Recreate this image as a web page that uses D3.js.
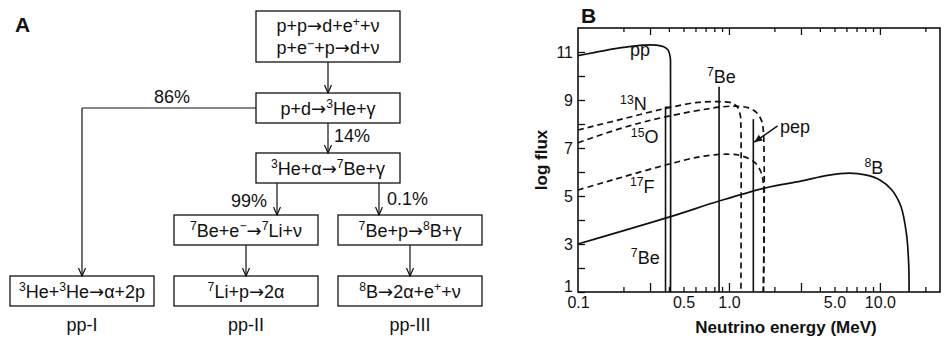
<!DOCTYPE html>
<html>
<head>
<meta charset="utf-8">
<script src="https://cdn.jsdelivr.net/npm/d3@7"></script>
<style>
  body { margin: 0; background: #fff; }
  text { font-family: "Liberation Sans", Arial, Helvetica, sans-serif; fill: #111; }
</style>
</head>
<body>
<svg id="fig" width="949" height="341"></svg>
<script>
"use strict";

// ---------- Panel A : la chaine pp ----------
var mainReactions = ["p+p→d+e^{+}+ν|p+e^{−}+p→d+ν", "p+d→^{3}He+γ", "^{3}He+α→^{7}Be+γ"]
var branchReactions = [
    ["^{3}He+^{3}He→α+2p"],
    ["^{7}Be+e^{−}→^{7}Li+ν", "^{7}Li+p→2α"],
    ["^{7}Be+p→^{8}B+γ", "^{8}B→2α+e^{+}+ν"]
]
var chainNames = ["pp-I", "pp-II", "pp-III"]
var branchPercents = ["86%", "14%", "99%", "0.1%"]

// ---------- Panel B : spectres (E en MeV, log flux) ----------
var ppSpectrum = [[0.1, 10.85], [0.15, 11.06], [0.2, 11.19], [0.27, 11.29], [0.33, 11.29], [0.37, 11.22],
    [0.395, 11.08], [0.408, 10.8], [0.41, 10.3], [0.41, 1]]
var n13Spectrum = [[0.1, 7.75], [0.2, 8.22], [0.38, 8.65], [0.62, 8.9], [0.86, 8.93], [1.05, 8.87],
    [1.14, 8.7], [1.19, 8.35], [1.2, 7.9], [1.2, 1]]
var o15Spectrum = [[0.1, 7.22], [0.2, 7.85], [0.38, 8.3], [0.86, 8.7], [1.1, 8.74], [1.35, 8.67],
    [1.52, 8.48], [1.64, 8.15], [1.69, 7.7], [1.69, 1]]
var f17Spectrum = [[0.1, 5.25], [0.142, 5.53], [0.2, 5.8], [0.38, 6.29], [0.65, 6.64], [1.0, 6.74],
    [1.23, 6.66], [1.48, 6.4], [1.63, 6.0], [1.69, 5.5], [1.69, 1]]
var b8Spectrum = [[0.1, 3.0], [0.41, 4.14], [0.86, 4.79], [1.7, 5.32], [3, 5.62], [4.5, 5.86], [6.3, 5.95],
    [8, 5.88], [10, 5.67], [12, 5.25], [13.8, 4.55], [15, 3.4], [15.5, 2.2], [15.6, 1]]
var lineSources = [
    { E: 0.38, flux: 8.7, capTo: 0.41 },
    { E: 0.86, flux: 9.55 },
    { E: 1.45, flux: 8.2 }
]
var curveLabels = [
    { text: "pp", E: 0.221, flux: 10.85 },
    { text: "^{13}N", E: 0.19, flux: 8.58 },
    { text: "^{15}O", E: 0.224, flux: 7.2 },
    { text: "^{17}F", E: 0.221, flux: 5.13 },
    { text: "^{7}Be", E: 0.224, flux: 2.17 },
    { text: "^{7}Be", E: 0.714, flux: 9.71 },
    { text: "^{8}B", E: 7.9, flux: 5.92 },
    { text: "pep", E: 2.18, flux: 7.63 }
]
var pepArrow = [[2.1, 7.92], [1.47, 7.24]]

var xMajorTicks = [0.3, 1, 3, 10]
var xMinorTicks = [0.2, 0.4, 0.5, 0.6, 0.7, 0.8, 0.9, 2, 4, 5, 6, 7, 8, 9, 20]
var xTickLabels = [0.1, 0.5, 1.0, 5.0, 10.0]
var yTickLabels = [1, 3, 5, 7, 9, 11]
var yMinorTicks = [2, 4, 6, 8, 10]

var svg = d3.select("#fig")

/**
 * Ecrit un texte avec exposants ("^{..}") dans un element text
 * les fleches sont prises dans DejaVu (plus longues, comme l'original)
 */
function richText(sel, str, size) {
    var shift = size * 0.36
    var parts = str.split(/(\^\{[^}]*\}|→)/).filter(s => s.length)
    var up = false
    parts.forEach(p => {
        if (p.startsWith("^{")) {
            sel.append("tspan").attr("font-size", size * 0.68).attr("dy", -shift).text(p.slice(2, -1))
            up = true
        } else {
            var t = sel.append("tspan").attr("font-size", size).attr("dy", up ? shift : 0).text(p)
            if (p === "→") t.style("font-family", "'DejaVu Sans'")
            up = false
        }
    })
    return sel
}

function arrowDown(g, x, y1, y2) {
    g.append("line").attr("x1", x).attr("x2", x).attr("y1", y1).attr("y2", y2)
        .attr("stroke", "#111").attr("stroke-width", 1.2)
    g.append("path").attr("d", "M" + (x - 3.5) + "," + (y2 - 8) + "L" + x + "," + y2 + "L" + (x + 3.5) + "," + (y2 - 8))
        .attr("fill", "none").attr("stroke", "#111").attr("stroke-width", 1.2)
}

function box(g, cx, cy, w, h, lines, size) {
    g.append("rect").attr("x", cx - w / 2).attr("y", cy - h / 2).attr("width", w).attr("height", h)
        .attr("fill", "none").attr("stroke", "#111").attr("stroke-width", 1.3)
    var step = 22
    lines.forEach((l, i) => {
        var t = g.append("text").attr("x", cx).attr("y", cy + 6.5 + (i - (lines.length - 1) / 2) * step)
            .attr("text-anchor", "middle")
        richText(t, l, size)
    })
}

function drawPanelA() {
    var g = svg.append("g")
    var fs = 18
    var col = d3.scalePoint().domain(d3.range(chainNames.length)).range([82, 410])
    var mainX = (col(1) + col(2)) / 2
    var bw = 144, bh = 30
    var mainRows = [36.5, 108, 168]
    var branchRows = [230, 291]

    g.append("text").attr("x", 15).attr("y", 32).attr("font-size", 21).attr("font-weight", "bold").text("A")

    mainReactions.forEach((r, i) => {
        var lines = r.split("|")
        box(g, mainX, mainRows[i], bw, i === 0 ? 51 : bh, lines, fs)
    })
    branchReactions.forEach((rs, c) => {
        rs.forEach((r, k) => {
            var row = rs.length === 1 ? 1 : k
            box(g, col(c), branchRows[row], bw, bh, [r], fs)
        })
        g.append("text").attr("x", col(c)).attr("y", 331).attr("text-anchor", "middle")
            .attr("font-size", fs).text(chainNames[c])
    })

    // fleches principales
    arrowDown(g, mainX, mainRows[0] + 25.5, mainRows[1] - bh / 2)
    arrowDown(g, mainX, mainRows[1] + bh / 2, mainRows[2] - bh / 2)
    // branche pp-I
    g.append("line").attr("x1", mainX - bw / 2).attr("x2", col(0)).attr("y1", mainRows[1]).attr("y2", mainRows[1])
        .attr("stroke", "#111").attr("stroke-width", 1.2)
    arrowDown(g, col(0), mainRows[1], branchRows[1] - bh / 2)
    // branches pp-II et pp-III
    arrowDown(g, mainX - 51, mainRows[2] + bh / 2, branchRows[0] - bh / 2)
    arrowDown(g, mainX + 51, mainRows[2] + bh / 2, branchRows[0] - bh / 2)
    arrowDown(g, col(1), branchRows[0] + bh / 2, branchRows[1] - bh / 2)
    arrowDown(g, col(2), branchRows[0] + bh / 2, branchRows[1] - bh / 2)

    // pourcentages
    g.append("text").attr("x", 172).attr("y", 103).attr("text-anchor", "middle").attr("font-size", fs).text(branchPercents[0])
    g.append("text").attr("x", mainX + 6).attr("y", 142).attr("font-size", fs).text(branchPercents[1])
    g.append("text").attr("x", mainX - 61).attr("y", 207).attr("text-anchor", "end").attr("font-size", fs).text(branchPercents[2])
    g.append("text").attr("x", mainX + 59).attr("y", 205).attr("font-size", fs).text(branchPercents[3])
}

function drawPanelB() {
    var g = svg.append("g")
    var x = d3.scaleLog().domain([0.1, 25]).range([578, 940])
    var y = d3.scaleLinear().domain([1, 12]).range([292, 28])
    var fs = 16

    g.append("text").attr("x", 581).attr("y", 23).attr("font-size", 21).attr("font-weight", "bold").text("B")

    // axes (ticks vers l'interieur)
    var style = sel => {
        sel.select(".domain").remove()
        sel.selectAll("line").attr("stroke", "#111").attr("stroke-width", 1.3)
        sel.selectAll("text").attr("font-size", fs).attr("font-family", null).attr("fill", "#111")
    }
    g.append("g").attr("transform", "translate(0," + y(1) + ")")
        .call(d3.axisBottom(x).tickValues(xMajorTicks).tickSize(-9).tickFormat("")).call(style)
    g.append("g").attr("transform", "translate(0," + y(1) + ")")
        .call(d3.axisBottom(x).tickValues(xMinorTicks).tickSize(-5).tickFormat("")).call(style)
    g.append("g").attr("transform", "translate(0," + y(12) + ")")
        .call(d3.axisTop(x).tickValues(xMajorTicks).tickSize(-7).tickFormat("")).call(style)
    g.append("g").attr("transform", "translate(0," + y(12) + ")")
        .call(d3.axisTop(x).tickValues(xMinorTicks).tickSize(-4).tickFormat("")).call(style)
    g.append("g").attr("transform", "translate(0," + y(1) + ")")
        .call(d3.axisBottom(x).tickValues(xTickLabels).tickSize(0).tickPadding(5).tickFormat(d3.format(".1f"))).call(style)
    var yAx = g.append("g").attr("transform", "translate(" + x(0.1) + ",0)")
        .call(d3.axisLeft(y).tickValues(yTickLabels).tickSizeInner(-7).tickSizeOuter(0).tickPadding(5)).call(style)
    // le "1" est remonte au-dessus du "0.1"
    yAx.selectAll(".tick text").filter(d => d === 1).attr("dy", "-0.05em")
    g.append("g").attr("transform", "translate(" + x(0.1) + ",0)")
        .call(d3.axisLeft(y).tickValues(yMinorTicks).tickSize(-7).tickFormat("")).call(style)

    g.append("rect").attr("x", x(0.1)).attr("y", y(12)).attr("width", x(25) - x(0.1)).attr("height", y(1) - y(12))
        .attr("fill", "none").attr("stroke", "#111").attr("stroke-width", 1.6)

    g.append("text").attr("transform", "translate(547," + ((y(1) + y(12)) / 2) + ") rotate(-90)")
        .attr("text-anchor", "middle").attr("font-size", 17).attr("font-weight", "bold").text("log flux")
    g.append("text").attr("x", 786).attr("y", 333).attr("text-anchor", "middle")
        .attr("font-size", 17).attr("font-weight", "bold").text("Neutrino energy (MeV)")

    var line = d3.line().x(d => x(d[0])).y(d => y(d[1])).curve(d3.curveCatmullRom.alpha(0.5))

    // spectres continus
    var spectra = [
        { data: ppSpectrum, dash: null },
        { data: n13Spectrum, dash: "6,4" },
        { data: o15Spectrum, dash: "6,4" },
        { data: f17Spectrum, dash: "6,4" },
        { data: b8Spectrum, dash: null }
    ]
    spectra.forEach(s => {
        g.append("path").datum(s.data).attr("d", line)
            .attr("fill", "none").attr("stroke", "#111").attr("stroke-width", 1.7)
            .attr("stroke-dasharray", s.dash)
    })

    // raies
    lineSources.forEach(s => {
        var pts = [[s.E, 1], [s.E, s.flux]]
        if (s.capTo) pts.push([s.capTo, s.flux])
        g.append("path").datum(pts).attr("d", d3.line().x(d => x(d[0])).y(d => y(d[1])))
            .attr("fill", "none").attr("stroke", "#111").attr("stroke-width", 1.6)
    })

    // etiquettes
    curveLabels.forEach(l => {
        var t = g.append("text").attr("x", x(l.E)).attr("y", y(l.flux))
        richText(t, l.text, 18)
    })

    // fleche pep
    var a0 = [x(pepArrow[0][0]), y(pepArrow[0][1])], a1 = [x(pepArrow[1][0]), y(pepArrow[1][1])]
    g.append("line").attr("x1", a0[0]).attr("y1", a0[1]).attr("x2", a1[0]).attr("y2", a1[1])
        .attr("stroke", "#111").attr("stroke-width", 1.5)
    var ang = Math.atan2(a1[1] - a0[1], a1[0] - a0[0])
    var hl = 8, hw = 3.5
    var bx = a1[0] - hl * Math.cos(ang), by = a1[1] - hl * Math.sin(ang)
    g.append("path").attr("d", "M" + a1[0] + "," + a1[1] +
        "L" + (bx + hw * Math.sin(ang)) + "," + (by - hw * Math.cos(ang)) +
        "L" + (bx - hw * Math.sin(ang)) + "," + (by + hw * Math.cos(ang)) + "Z").attr("fill", "#111")
}

drawPanelA()
drawPanelB()
</script>
</body>
</html>
